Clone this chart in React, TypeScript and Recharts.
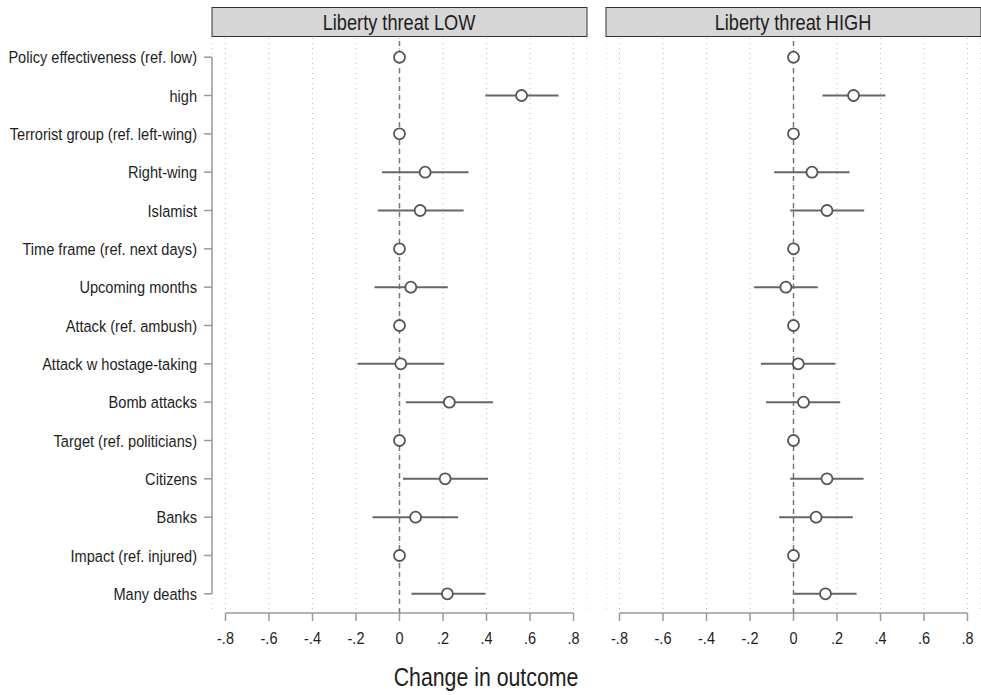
import { CartesianGrid, ErrorBar, ReferenceLine, Scatter, ScatterChart, XAxis, YAxis } from 'recharts'

const rowLabels = [
  'Policy effectiveness (ref. low)',
  'high',
  'Terrorist group (ref. left-wing)',
  'Right-wing',
  'Islamist',
  'Time frame (ref. next days)',
  'Upcoming months',
  'Attack (ref. ambush)',
  'Attack w hostage-taking',
  'Bomb attacks',
  'Target (ref. politicians)',
  'Citizens',
  'Banks',
  'Impact (ref. injured)',
  'Many deaths',
]

// Liberty threat LOW
const lowEst = [0, 0.561, 0, 0.118, 0.095, 0, 0.052, 0, 0.006, 0.229, 0, 0.21, 0.074, 0, 0.22]
const lowLo = [0, 0.395, 0, -0.08, -0.1, 0, -0.115, 0, -0.193, 0.029, 0, 0.016, -0.124, 0, 0.055]
const lowHi = [0, 0.731, 0, 0.317, 0.295, 0, 0.222, 0, 0.206, 0.43, 0, 0.407, 0.269, 0, 0.395]

// Liberty threat HIGH
const highEst = [0, 0.276, 0, 0.085, 0.154, 0, -0.035, 0, 0.022, 0.046, 0, 0.154, 0.104, 0, 0.147]
const highLo = [0, 0.133, 0, -0.089, -0.015, 0, -0.181, 0, -0.15, -0.126, 0, -0.015, -0.066, 0, 0.003]
const highHi = [0, 0.423, 0, 0.258, 0.325, 0, 0.112, 0, 0.193, 0.215, 0, 0.322, 0.273, 0, 0.29]

const xTicks = [-0.8, -0.6, -0.4, -0.2, 0, 0.2, 0.4, 0.6, 0.8]
const panelTitles = ['Liberty threat LOW', 'Liberty threat HIGH']
const axisTitle = 'Change in outcome'

const X_DOMAIN: [number, number] = [-0.862, 0.862]
const ROW_IDX = rowLabels.map((_, i) => i)
const FONT = '"Liberation Sans", Arial, sans-serif'
const TEXT = '#1e1e1e'
const AXIS = '#9a9a9a'
const STRETCH = 1.17

type Row = { row: number; est: number; err: [number, number] }

const toRows = (est: number[], lo: number[], hi: number[]): Row[] =>
  est.map((e, i) => ({ row: i, est: e, err: [e - lo[i], hi[i] - e] }))

const fmtTick = (v: number) => (v === 0 ? '0' : (v < 0 ? '-' : '') + Math.abs(v).toFixed(1).slice(1))

function XTick(props: any) {
  const { x, y, payload } = props
  return (
    <g transform={`translate(${x},${y + 21}) scale(1,${STRETCH})`}>
      <text textAnchor="middle" fontSize={14.5} fontFamily={FONT} fill={TEXT}>
        {fmtTick(payload.value)}
      </text>
    </g>
  )
}

function YTick(props: any) {
  const { x, y, payload } = props
  return (
    <g transform={`translate(${x - 5},${y + 6}) scale(1,${STRETCH})`}>
      <text textAnchor="end" fontSize={14.6} fontFamily={FONT} fill={TEXT}>
        {rowLabels[payload.value]}
      </text>
    </g>
  )
}

const renderDot = (p: any) => (
  <circle cx={p.cx} cy={p.cy} r={5.5} fill="#fff" stroke="#555" strokeWidth={1.8} />
)

function Panel({ data, withLabels, width }: { data: Row[]; withLabels: boolean; width: number }) {
  return (
    <ScatterChart width={width} height={695} margin={{ top: 38, right: 0, bottom: 52, left: 0 }}>
      <CartesianGrid horizontal={false} strokeDasharray="1 4" stroke="#bcbcbc" />
      <XAxis
        type="number"
        dataKey="est"
        domain={X_DOMAIN}
        ticks={xTicks}
        interval={0}
        allowDataOverflow
        axisLine={false}
        tickSize={8}
        tickLine={{ stroke: AXIS, strokeWidth: 1.5 }}
        tick={<XTick />}
        height={30}
      />
      <YAxis
        type="number"
        dataKey="row"
        domain={[-0.5, 14.5]}
        reversed
        ticks={ROW_IDX}
        interval={0}
        allowDataOverflow
        hide={!withLabels}
        width={withLabels ? 212 : 0}
        axisLine={false}
        tickSize={8}
        tickLine={{ stroke: AXIS, strokeWidth: 1.5 }}
        tick={<YTick />}
      />
      <ReferenceLine
        segment={[{ x: -0.8, y: 14.5 }, { x: 0.8, y: 14.5 }]}
        stroke={AXIS}
        strokeWidth={1.5}
        ifOverflow="visible"
      />
      {withLabels && (
        <ReferenceLine
          segment={[{ x: X_DOMAIN[0], y: 0 }, { x: X_DOMAIN[0], y: 14 }]}
          stroke={AXIS}
          strokeWidth={1.5}
          ifOverflow="visible"
        />
      )}
      <ReferenceLine x={0} stroke="#777" strokeWidth={1.5} strokeDasharray="5 4" />
      <Scatter data={data} isAnimationActive={false} shape={renderDot}>
        <ErrorBar dataKey="err" direction="x" width={0} stroke="#666" strokeWidth={2} isAnimationActive={false} />
      </Scatter>
    </ScatterChart>
  )
}

function Header({ x, label }: { x: number; label: string }) {
  return (
    <g>
      <rect x={x + 0.5} y={7.5} width={375} height={29} fill="#d6d6d6" stroke="#333" strokeWidth={1} />
      <g transform={`translate(${x + 187.5},29.5) scale(1,${STRETCH})`}>
        <text textAnchor="middle" fontSize={18.2} fontFamily={FONT} fill={TEXT}>
          {label}
        </text>
      </g>
    </g>
  )
}

export default function App() {
  const low = toRows(lowEst, lowLo, lowHi)
  const high = toRows(highEst, highLo, highHi)
  return (
    <div style={{ position: 'absolute', left: 0, top: 0, width: 981, height: 695, background: '#fff', overflow: 'hidden' }}>
      <svg width={981} height={695} style={{ position: 'absolute', left: 0, top: 0 }}>
        <Header x={211.5} label={panelTitles[0]} />
        <Header x={605.5} label={panelTitles[1]} />
        <g transform={`translate(486,686) scale(1,${STRETCH})`}>
          <text textAnchor="middle" fontSize={21.3} fontFamily={FONT} fill={TEXT}>
            {axisTitle}
          </text>
        </g>
      </svg>
      <div style={{ position: 'absolute', left: 0, top: 0 }}>
        <Panel data={low} withLabels width={587} />
      </div>
      <div style={{ position: 'absolute', left: 606, top: 0 }}>
        <Panel data={high} withLabels={false} width={375} />
      </div>
    </div>
  )
}
